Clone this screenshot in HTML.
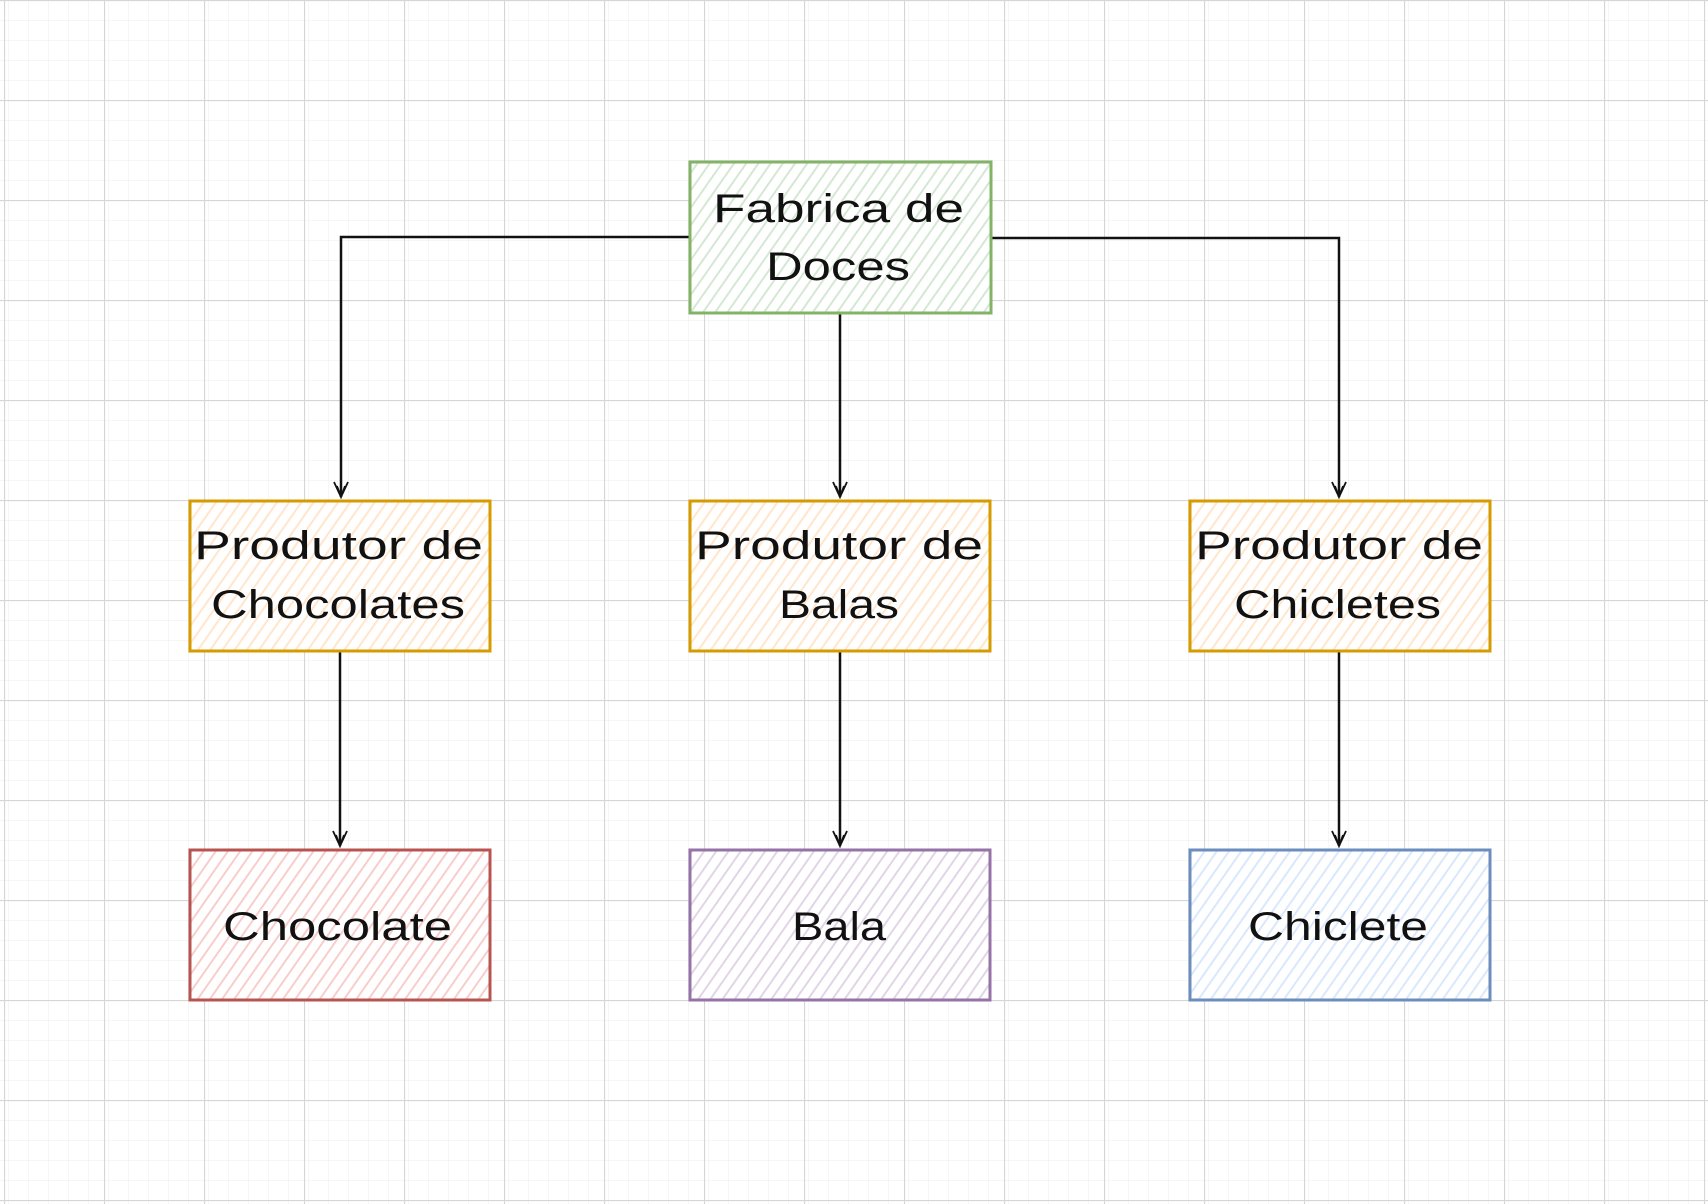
<!DOCTYPE html>
<html><head><meta charset="utf-8"><style>
html,body{margin:0;padding:0;background:#fff}
svg{display:block}
text{font-family:"Liberation Sans",sans-serif;font-size:40px;fill:#111}
</style></head><body>
<svg width="1708" height="1204" viewBox="0 0 1708 1204" xmlns="http://www.w3.org/2000/svg">
<defs>
<pattern id="minor" width="20" height="20" patternUnits="userSpaceOnUse" x="4" y="0">
<path d="M0 0H20M0 0V20" stroke="#ececec" stroke-width="1" fill="none"/>
</pattern>
<pattern id="major" width="100" height="100" patternUnits="userSpaceOnUse" x="4" y="0">
<rect width="100" height="100" fill="url(#minor)"/>
<path d="M0 0.5H100M0.5 0V100" stroke="#d6d6d6" stroke-width="1.2" fill="none"/>
</pattern>
<pattern id="hg" width="10" height="10" patternUnits="userSpaceOnUse" patternTransform="rotate(-55)"><rect width="10" height="10" fill="#fff"/><path d="M0 5H10" stroke="#d5e8d4" stroke-width="2"/></pattern>
<pattern id="ho" width="10" height="10" patternUnits="userSpaceOnUse" patternTransform="rotate(-55)"><rect width="10" height="10" fill="#fff"/><path d="M0 5H10" stroke="#ffe6cc" stroke-width="2"/></pattern>
<pattern id="hr" width="10" height="10" patternUnits="userSpaceOnUse" patternTransform="rotate(-55)"><rect width="10" height="10" fill="#fff"/><path d="M0 5H10" stroke="#f8cecc" stroke-width="2"/></pattern>
<pattern id="hp" width="10" height="10" patternUnits="userSpaceOnUse" patternTransform="rotate(-55)"><rect width="10" height="10" fill="#fff"/><path d="M0 5H10" stroke="#e1d5e7" stroke-width="2"/></pattern>
<pattern id="hb" width="10" height="10" patternUnits="userSpaceOnUse" patternTransform="rotate(-55)"><rect width="10" height="10" fill="#fff"/><path d="M0 5H10" stroke="#dae8fc" stroke-width="2"/></pattern>
<marker id="ar" markerWidth="18" markerHeight="18" refX="16" refY="8" orient="auto" markerUnits="userSpaceOnUse" viewBox="0 0 18 16">
<path d="M1 1L16 8L1 15M5 4L16 8L5 12" fill="none" stroke="#111" stroke-width="1.8"/>
</marker>
</defs>
<rect width="1708" height="1204" fill="url(#major)"/>

<g stroke="#111" stroke-width="2.5" fill="none">
<path d="M690 237H341V497" marker-end="url(#ar)"/>
<path d="M992 238H1339V497" marker-end="url(#ar)"/>
<path d="M840 313V497" marker-end="url(#ar)"/>
<path d="M340 651V846" marker-end="url(#ar)"/>
<path d="M840 651V846" marker-end="url(#ar)"/>
<path d="M1339 651V846" marker-end="url(#ar)"/>
</g>

<g stroke-width="3">
<rect x="690" y="162" width="301" height="151" fill="url(#hg)" stroke="#82b366"/>
<rect x="190" y="501" width="300" height="150" fill="url(#ho)" stroke="#d79b00"/>
<rect x="690" y="501" width="300" height="150" fill="url(#ho)" stroke="#d79b00"/>
<rect x="1190" y="501" width="300" height="150" fill="url(#ho)" stroke="#d79b00"/>
<rect x="190" y="850" width="300" height="150" fill="url(#hr)" stroke="#b85450"/>
<rect x="690" y="850" width="300" height="150" fill="url(#hp)" stroke="#9673a6"/>
<rect x="1190" y="850" width="300" height="150" fill="url(#hb)" stroke="#6c8ebf"/>
</g>

<text x="713" y="222" textLength="251" lengthAdjust="spacingAndGlyphs">Fabrica de</text>
<text x="766" y="280" textLength="144" lengthAdjust="spacingAndGlyphs">Doces</text>
<text x="194" y="559" textLength="289" lengthAdjust="spacingAndGlyphs">Produtor de</text>
<text x="211" y="618" textLength="254" lengthAdjust="spacingAndGlyphs">Chocolates</text>
<text x="695" y="559" textLength="288" lengthAdjust="spacingAndGlyphs">Produtor de</text>
<text x="779" y="618" textLength="120" lengthAdjust="spacingAndGlyphs">Balas</text>
<text x="1195" y="559" textLength="288" lengthAdjust="spacingAndGlyphs">Produtor de</text>
<text x="1234" y="618" textLength="207" lengthAdjust="spacingAndGlyphs">Chicletes</text>
<text x="223" y="940" textLength="229" lengthAdjust="spacingAndGlyphs">Chocolate</text>
<text x="792" y="940" textLength="94" lengthAdjust="spacingAndGlyphs">Bala</text>
<text x="1248" y="940" textLength="180" lengthAdjust="spacingAndGlyphs">Chiclete</text>
</svg>
</body></html>
